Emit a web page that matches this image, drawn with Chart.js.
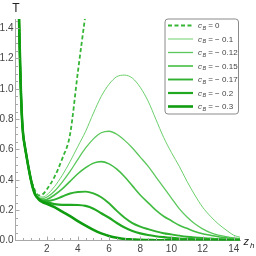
<!DOCTYPE html>
<html><head><meta charset="utf-8">
<script src="https://cdn.jsdelivr.net/npm/chart.js@4.4.1/dist/chart.umd.min.js"></script>
<style>html,body{margin:0;padding:0;background:#fff}canvas{display:block}</style>
</head><body>
<canvas id="c" width="256" height="256"></canvas>
<script>
// shared small-z branch (all curves coincide)
const zHead = [0.2,0.25,0.3,0.35,0.4,0.45,0.5,0.6,0.7,0.8,0.9,1.0];
const tHead = [1.58,1.36,1.15,0.97,0.84,0.75,0.69,0.62,0.56,0.50,0.445,0.395];
const zTail = [1.1,1.25,1.5,1.75,2,2.5,3,3.5,4,4.5,5,5.5,6,6.5,7,7.5,8,8.5,9,9.5,10,10.5,11,11.5,12,12.5,13,13.5,14,14.5];
const cLabels = ["0","\u2212 0.1","\u2212 0.12","\u2212 0.15","\u2212 0.17","\u2212 0.2","\u2212 0.3"];
const tC0   = [0.37,0.33,0.297,0.305,0.335,0.42,0.54,0.70,1.11,1.50];
const tC010 = [0.365,0.32,0.287,0.287,0.30,0.355,0.43,0.52,0.62,0.72,0.84,0.95,1.03,1.08,1.09,1.07,1.01,0.92,0.80,0.68,0.58,0.49,0.39,0.30,0.22,0.16,0.11,0.07,0.035,0.02];
const tC012 = [0.36,0.315,0.282,0.277,0.285,0.325,0.385,0.455,0.535,0.61,0.67,0.71,0.72,0.70,0.66,0.61,0.55,0.49,0.42,0.35,0.28,0.21,0.155,0.11,0.077,0.052,0.036,0.026,0.018,0.012];
const tC015 = [0.36,0.31,0.278,0.267,0.27,0.30,0.34,0.39,0.44,0.48,0.51,0.52,0.505,0.47,0.42,0.36,0.30,0.25,0.20,0.16,0.13,0.10,0.08,0.06,0.045,0.035,0.025,0.018,0.013,0.01];
const tC017 = [0.355,0.305,0.275,0.262,0.26,0.27,0.29,0.31,0.32,0.322,0.31,0.285,0.245,0.195,0.15,0.115,0.092,0.075,0.06,0.048,0.04,0.032,0.025,0.02,0.016,0.013,0.01,0.008,0.006,0.005];
const tC020 = [0.355,0.305,0.272,0.258,0.252,0.24,0.235,0.235,0.234,0.228,0.21,0.18,0.15,0.115,0.085,0.063,0.047,0.036,0.028,0.022,0.017,0.013,0.01,0.008,0.006,0.005,0.004,0.003,0.003,0.002];
const tC030 = [0.35,0.305,0.27,0.252,0.242,0.22,0.19,0.16,0.128,0.098,0.07,0.047,0.03,0.018,0.01,0.007,0.004,0.003,0.002,0.001,0.001,0,0,0,0,0,0,0,0,0];
const xTicks = [2,4,6,8,10,12,14];
const yTicks = [0,0.2,0.4,0.6,0.8,1.0,1.2,1.4];

const series = [tC0,tC010,tC012,tC015,tC017,tC020,tC030];
const colors = ['#35b535','#6ccf6c','#5cc85c','#44bd44','#30b130','#20a820','#109c10'];
const widths = [1.8,1.0,1.3,1.6,1.9,2.2,2.6];

function pts(tail){
  const out = zHead.map((z,i)=>({x:z,y:tHead[i]}));
  tail.forEach((t,i)=>out.push({x:zTail[i],y:t}));
  return out;
}
const datasets = series.map((s,i)=>({
  label: cLabels[i], data: pts(s), borderColor: colors[i], borderWidth: widths[i],
  borderDash: i===0?[4,2.5]:[], pointRadius:0, fill:false,
  cubicInterpolationMode:'monotone'
})).reverse();

const L = 15.5, B = 240.5, T0 = 19, R = 240;
const FONT = '"Liberation Sans", Arial, sans-serif';

const deco = {
  id:'deco',
  afterDraw(chart){
    const ctx = chart.ctx, xs = chart.scales.x, ys = chart.scales.y;
    ctx.save();
    ctx.strokeStyle = '#a8a8a8'; ctx.lineWidth = 1;
    // inward ticks
    for(let v=0.5; v<=14.4; v+=0.5){
      const px = Math.round(xs.getPixelForValue(v))+0.5;
      const len = (Math.abs(v/2-Math.round(v/2))<1e-6)?4:2.5;
      ctx.beginPath(); ctx.moveTo(px,B); ctx.lineTo(px,B-len); ctx.stroke();
    }
    for(let k=1; k<=29; k++){
      const v = k*0.05;
      const py = Math.round(ys.getPixelForValue(v))+0.5;
      const len = (k%4===0)?4:2.5;
      ctx.beginPath(); ctx.moveTo(L,py); ctx.lineTo(L+len,py); ctx.stroke();
    }
    // axis labels
    ctx.fillStyle = '#222';
    ctx.font = '12px '+FONT; ctx.textAlign='center'; ctx.textBaseline='alphabetic';
    ctx.fillText('T', 16, 12);
    ctx.textAlign='left';
    ctx.font = 'italic 11px '+FONT; ctx.fillText('z', 243.5, 245);
    ctx.font = 'italic 8px '+FONT; ctx.fillText('h', 250, 248);
    // legend
    const lx=165, ly=19, lw=73.5, lh=95, r=3;
    ctx.beginPath();
    ctx.moveTo(lx+r,ly); ctx.lineTo(lx+lw-r,ly); ctx.arcTo(lx+lw,ly,lx+lw,ly+r,r);
    ctx.lineTo(lx+lw,ly+lh-r); ctx.arcTo(lx+lw,ly+lh,lx+lw-r,ly+lh,r);
    ctx.lineTo(lx+r,ly+lh); ctx.arcTo(lx,ly+lh,lx,ly+lh-r,r);
    ctx.lineTo(lx,ly+r); ctx.arcTo(lx,ly,lx+r,ly,r); ctx.closePath();
    ctx.fillStyle='#fff'; ctx.fill();
    ctx.strokeStyle='#8a8a8a'; ctx.lineWidth=1; ctx.stroke();
    for(let i=0;i<7;i++){
      const y = 25.5 + i*13.5;
      ctx.strokeStyle = colors[i]; ctx.lineWidth = widths[i];
      ctx.setLineDash(i===0?[4,2.5]:[]);
      ctx.beginPath(); ctx.moveTo(168,y); ctx.lineTo(193,y); ctx.stroke();
      ctx.setLineDash([]);
      ctx.fillStyle='#444'; ctx.textBaseline='alphabetic'; ctx.textAlign='left';
      ctx.font='italic 8px '+FONT; ctx.fillText('c',198,y+2.5);
      ctx.font='italic 5.5px '+FONT; ctx.fillText('B',202.5,y+4);
      ctx.font='8px '+FONT; ctx.fillText(' = '+cLabels[i],206,y+2.5);
    }
    ctx.restore();
  }
};

new Chart(document.getElementById('c'),{
  type:'line',
  data:{datasets},
  options:{
    responsive:false, animation:false, devicePixelRatio:1,
    layout:{padding:{left:0,top:T0,right:256-R,bottom:0}},
    plugins:{legend:{display:false},tooltip:{enabled:false}},
    elements:{point:{radius:0}},
    scales:{
      x:{type:'linear',min:0,max:14.4,
         afterFit(s){s.height=256-B;},
         afterBuildTicks(s){s.ticks=xTicks.map(v=>({value:v}));},
         ticks:{padding:3,color:'#444',font:{family:FONT,size:10},maxRotation:0,autoSkip:false},
         grid:{display:true,drawOnChartArea:false,drawTicks:false},
         border:{display:true,color:'#a8a8a8'}},
      y:{type:'linear',min:0,max:1.46,
         afterFit(s){s.width=L;},
         afterBuildTicks(s){s.ticks=yTicks.map(v=>({value:v}));},
         ticks:{padding:2,color:'#444',font:{family:FONT,size:10},callback:v=>v.toFixed(1)},
         grid:{display:true,drawOnChartArea:false,drawTicks:false},
         border:{display:true,color:'#a8a8a8'}}
    }
  },
  plugins:[deco]
});
</script>
</body></html>
